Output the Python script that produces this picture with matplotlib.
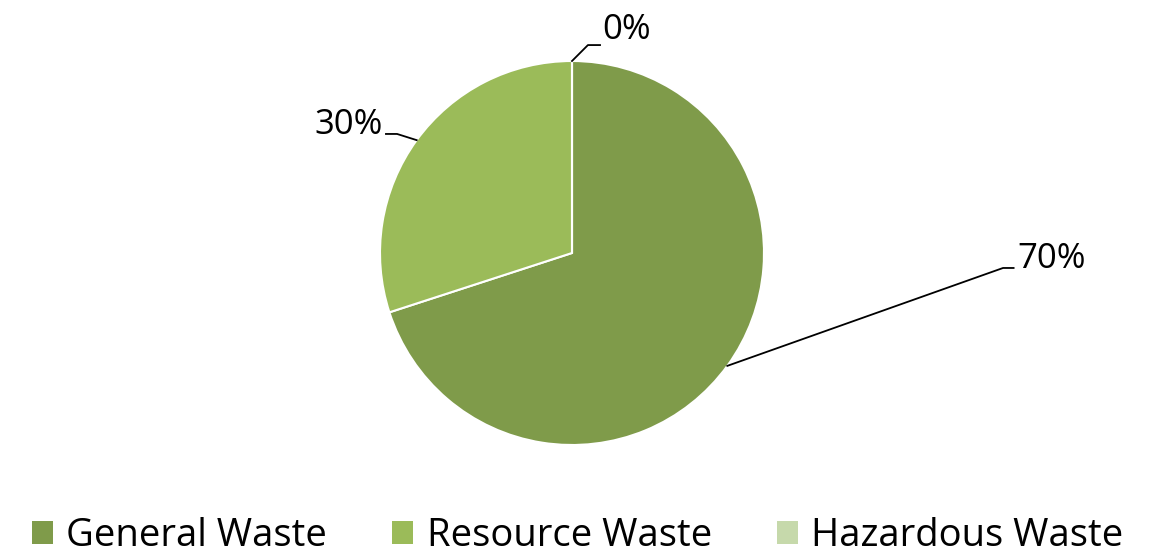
import numpy as np
import matplotlib.pyplot as plt
from matplotlib.patches import Patch

# --- data ---
categories = ['General Waste', 'Resource Waste', 'Hazardous Waste']
shares = [70, 30, 0]
pct_labels = ['70%', '30%', '0%']
colors = ['#7f9b4a', '#9bbb59', '#c6d9ab']

plt.rcParams['font.family'] = ['Open Sans', 'DejaVu Sans']

W, H = 1151, 556
cx, cy, r = 572, 253, 192  # pie centre / radius in pixels

fig = plt.figure(figsize=(W / 100, H / 100), dpi=100)
ax = fig.add_axes([0, 0, 1, 1])

wedges, _ = ax.pie(shares, colors=colors, startangle=90, counterclock=False,
                   radius=1, wedgeprops=dict(edgecolor='white', linewidth=1.5))
ax.set_aspect('auto')
ax.set_xlim(-cx / r, (W - cx) / r)
ax.set_ylim((cy - H) / r, cy / r)
ax.axis('off')

# leader lines: (elbow, end of horizontal, text pos, alignment)
label_layout = [
    ((2.245, -0.078), (2.30, -0.078), (2.32, -0.03), 'left'),
    ((-0.911, 0.62), (-0.969, 0.62), (-0.985, 0.665), 'right'),
    ((0.083, 1.083), (0.146, 1.083), (0.16, 1.16), 'left'),
]
for w, lab, (elbow, end, tpos, ha) in zip(wedges, pct_labels, label_layout):
    mid = np.deg2rad((w.theta1 + w.theta2) / 2)
    ax0 = (np.cos(mid), np.sin(mid))
    ax.plot([ax0[0], elbow[0], end[0]], [ax0[1], elbow[1], end[1]],
            color='black', lw=1.3, clip_on=False)
    ax.text(tpos[0], tpos[1], lab, ha=ha, va='center', fontsize=25, color='black')

handles = [Patch(facecolor=c, edgecolor='none') for c in colors]
fig.legend(handles, categories, loc='lower center', ncol=3, frameon=False,
           fontsize=27.5, bbox_to_anchor=(0.502, -0.06), handlelength=0.55,
           handleheight=0.55, handletextpad=0.35, columnspacing=1.7)

fig.savefig('out.png', dpi=100)
